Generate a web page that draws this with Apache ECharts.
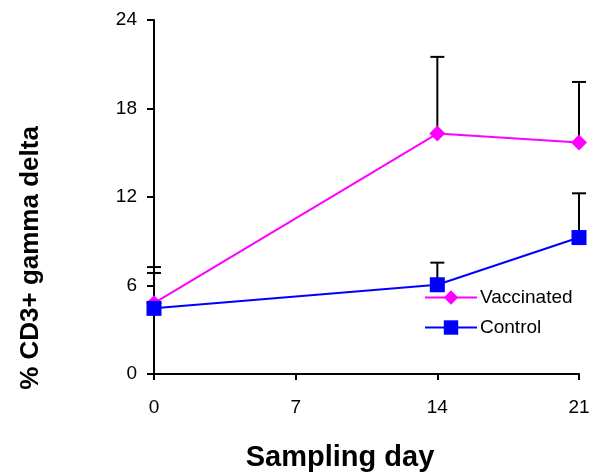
<!DOCTYPE html>
<html>
<head>
<meta charset="utf-8">
<script src="https://cdn.jsdelivr.net/npm/echarts@6/dist/echarts.min.js"></script>
<style>
  html, body { margin: 0; padding: 0; background: #fff; }
  #main { width: 591px; height: 474px; }
</style>
</head>
<body>
<div id="main"></div>
<script>
// sampling days
const days = [0, 14, 21];
// means
const vaccinated = [4.8, 16.3, 15.7];
const control = [4.45, 6.05, 9.25];
// upper error (SD) added on top of mean
const vaccinatedErr = [2.45, 5.2, 4.1];
const controlErr = [2.4, 1.5, 3.0];
const yTicks = [0, 6, 12, 18, 24];

const myChart = echarts.init(document.getElementById("main"));

// error bar points: [x, mean, mean+err]
function errData(xs, ys, es) {
  let out = [];
  for (let i = 0; i < xs.length; i++) {
    out.push([xs[i], ys[i], ys[i] + es[i]]);
  }
  return out;
}

function renderErr(params, api) {
  const x = api.value(0);
  const lo = api.coord([x, api.value(1)]);
  const hi = api.coord([x, api.value(2)]);
  const half = 7;
  const style = { stroke: "#000", lineWidth: 2 };
  return {
    type: "group",
    children: [
      { type: "line", shape: { x1: lo[0], y1: lo[1], x2: hi[0], y2: hi[1] }, style: style },
      { type: "line", shape: { x1: hi[0] - half, y1: hi[1], x2: hi[0] + half, y2: hi[1] }, style: style }
    ]
  };
}

const font = "Liberation Sans, Arial, sans-serif";

const option = {
  animation: false,
  textStyle: { fontFamily: font },
  grid: { left: 154, right: 12, top: 20, bottom: 100, outerBoundsMode: "none" },
  legend: {
    orient: "vertical",
    left: 419,
    top: 283,
    itemWidth: 52,
    itemHeight: 18,
    itemGap: 11,
    textStyle: { fontSize: 19, color: "#000", fontFamily: font, padding: [0, 0, 0, -2] },
    data: ["Vaccinated", "Control"]
  },
  graphic: [
    {
      type: "text",
      rotation: Math.PI / 2,
      x: 31,
      y: 258,
      style: {
        text: "% CD3+ gamma delta",
        font: "bold 26px " + font,
        fill: "#000",
        align: "center",
        verticalAlign: "middle"
      }
    },
    {
      type: "text",
      x: 340,
      y: 458,
      style: {
        text: "Sampling day",
        font: "bold 29px " + font,
        fill: "#000",
        align: "center",
        verticalAlign: "middle"
      }
    }
  ],
  xAxis: {
    type: "value",
    min: 0,
    max: 21,
    interval: 7,
    axisLine: { lineStyle: { color: "#000", width: 2 } },
    axisTick: { show: true, length: 6, lineStyle: { color: "#000", width: 2 } },
    axisLabel: { fontSize: 19, color: "#000", margin: 24 },
    splitLine: { show: false }
  },
  yAxis: {
    type: "value",
    min: yTicks[0],
    max: yTicks[yTicks.length - 1],
    interval: 6,
    axisLine: { lineStyle: { color: "#000", width: 2 } },
    axisTick: { show: true, length: 7, lineStyle: { color: "#000", width: 2 } },
    axisLabel: { fontSize: 19, color: "#000", margin: 17 },
    splitLine: { show: false }
  },
  series: [
    {
      type: "custom",
      name: "vacErr",
      renderItem: renderErr,
      data: errData(days, vaccinated, vaccinatedErr),
      encode: { x: 0, y: [1, 2] },
      z: 1
    },
    {
      type: "custom",
      name: "ctlErr",
      renderItem: renderErr,
      data: errData(days, control, controlErr),
      encode: { x: 0, y: [1, 2] },
      z: 1
    },
    {
      type: "line",
      name: "Vaccinated",
      data: days.map((d, i) => [d, vaccinated[i]]),
      symbol: "diamond",
      symbolSize: 16,
      lineStyle: { color: "#ff00ff", width: 2 },
      itemStyle: { color: "#ff00ff" },
      z: 3
    },
    {
      type: "line",
      name: "Control",
      data: days.map((d, i) => [d, control[i]]),
      symbol: "rect",
      symbolSize: 15,
      lineStyle: { color: "#0000ff", width: 2 },
      itemStyle: { color: "#0000ff" },
      z: 3
    }
  ]
};

myChart.setOption(option);
</script>
</body>
</html>
